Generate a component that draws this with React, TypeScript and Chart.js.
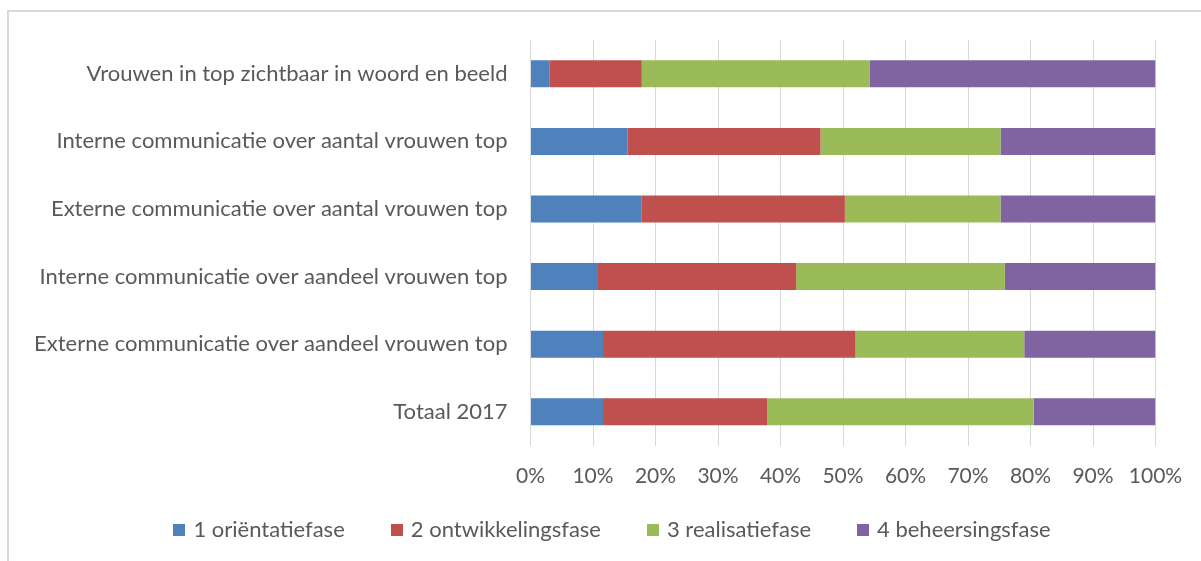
import React, { useEffect, useRef } from 'react';
import { Chart, registerables } from 'chart.js';

Chart.register(...registerables);

const categories = [
  'Vrouwen in top zichtbaar in woord en beeld',
  'Interne communicatie over aantal vrouwen top',
  'Externe communicatie over aantal vrouwen top',
  'Interne communicatie over aandeel vrouwen top',
  'Externe communicatie over aandeel vrouwen top',
  'Totaal 2017',
];
const seriesNames = ['1 oriëntatiefase', '2 ontwikkelingsfase', '3 realisatiefase', '4 beheersingsfase'];
const seriesColors = ['#4F81BD', '#C0504D', '#9BBB59', '#8064A2'];
const orientatie = [3.0, 15.5, 17.8, 10.8, 11.6, 11.6];
const ontwikkeling = [14.8, 30.9, 32.5, 31.7, 40.4, 26.3];
const realisatie = [36.5, 28.8, 24.9, 33.4, 27.0, 42.6];
const beheersing = [45.7, 24.8, 24.8, 24.1, 21.0, 19.5];
const seriesValues = [orientatie, ontwikkeling, realisatie, beheersing];

const FONT = 'Lato';
const TEXT = '#595959';
const FS = 22;
const TICK_FS = 21;

const legendPlugin = {
  id: 'customLegend',
  afterDraw(chart: any) {
    const ctx = chart.ctx;
    ctx.save();
    ctx.font = `${FS}px ${FONT}`;
    const box = 12;
    const boxGap = 8;
    const itemGap = 46;
    const items = chart.data.datasets.map((ds: any) => ({
      label: ds.label,
      color: ds.backgroundColor,
      w: ctx.measureText(ds.label).width,
    }));
    const total = items.reduce((s: number, it: any) => s + box + boxGap + it.w, 0) + itemGap * (items.length - 1);
    let x = 612 - total / 2;
    const cy = 530;
    items.forEach((it: any) => {
      ctx.fillStyle = it.color;
      ctx.fillRect(Math.round(x), cy - 6, box, box);
      ctx.fillStyle = TEXT;
      ctx.textBaseline = 'middle';
      ctx.textAlign = 'left';
      ctx.fillText(it.label, x + box + boxGap, cy);
      x += box + boxGap + it.w + itemGap;
    });
    ctx.restore();
  },
};

export default function App() {
  const ref = useRef<HTMLCanvasElement>(null);
  useEffect(() => {
    if (!ref.current) return;
    Chart.defaults.font.family = FONT;
    const chart = new Chart(ref.current, {
      type: 'bar',
      data: {
        labels: categories,
        datasets: seriesNames.map((name, i) => ({
          label: name,
          data: seriesValues[i],
          backgroundColor: seriesColors[i],
          borderWidth: 0,
          categoryPercentage: 1,
          barPercentage: 0.4,
        })),
      },
      plugins: [legendPlugin],
      options: {
        indexAxis: 'y',
        animation: false,
        responsive: false,
        devicePixelRatio: 1,
        layout: { padding: { top: 40, left: 0, right: 45.5, bottom: 0 } },
        plugins: { legend: { display: false }, tooltip: { enabled: false } },
        scales: {
          x: {
            stacked: true,
            min: 0,
            max: 100,
            ticks: {
              stepSize: 10,
              padding: 18,
              color: TEXT,
              font: { family: FONT, size: TICK_FS },
              callback: (v: any) => `${v}%`,
              maxRotation: 0,
            },
            grid: { color: '#D9D9D9', lineWidth: 1, drawTicks: false },
            border: { display: false },
            afterFit: (s: any) => { s.height = 561 - 445.6; },
          },
          y: {
            stacked: true,
            ticks: { padding: 23, color: TEXT, font: { family: FONT, size: FS } },
            grid: { display: false, drawTicks: false },
            border: { display: false },
            afterFit: (s: any) => { s.width = 530.5; },
          },
        },
      },
    });
    return () => chart.destroy();
  }, []);
  return (
    <div style={{ position: 'absolute', left: 0, top: 0, width: 1201, height: 561, background: '#fff' }}>
      <div style={{ position: 'absolute', left: 7, top: 10, right: 0, bottom: 0, borderTop: '2px solid #D9D9D9', borderLeft: '2px solid #D9D9D9' }} />
      <canvas ref={ref} width={1201} height={561} style={{ position: 'absolute', left: 0, top: 0 }} />
    </div>
  );
}
